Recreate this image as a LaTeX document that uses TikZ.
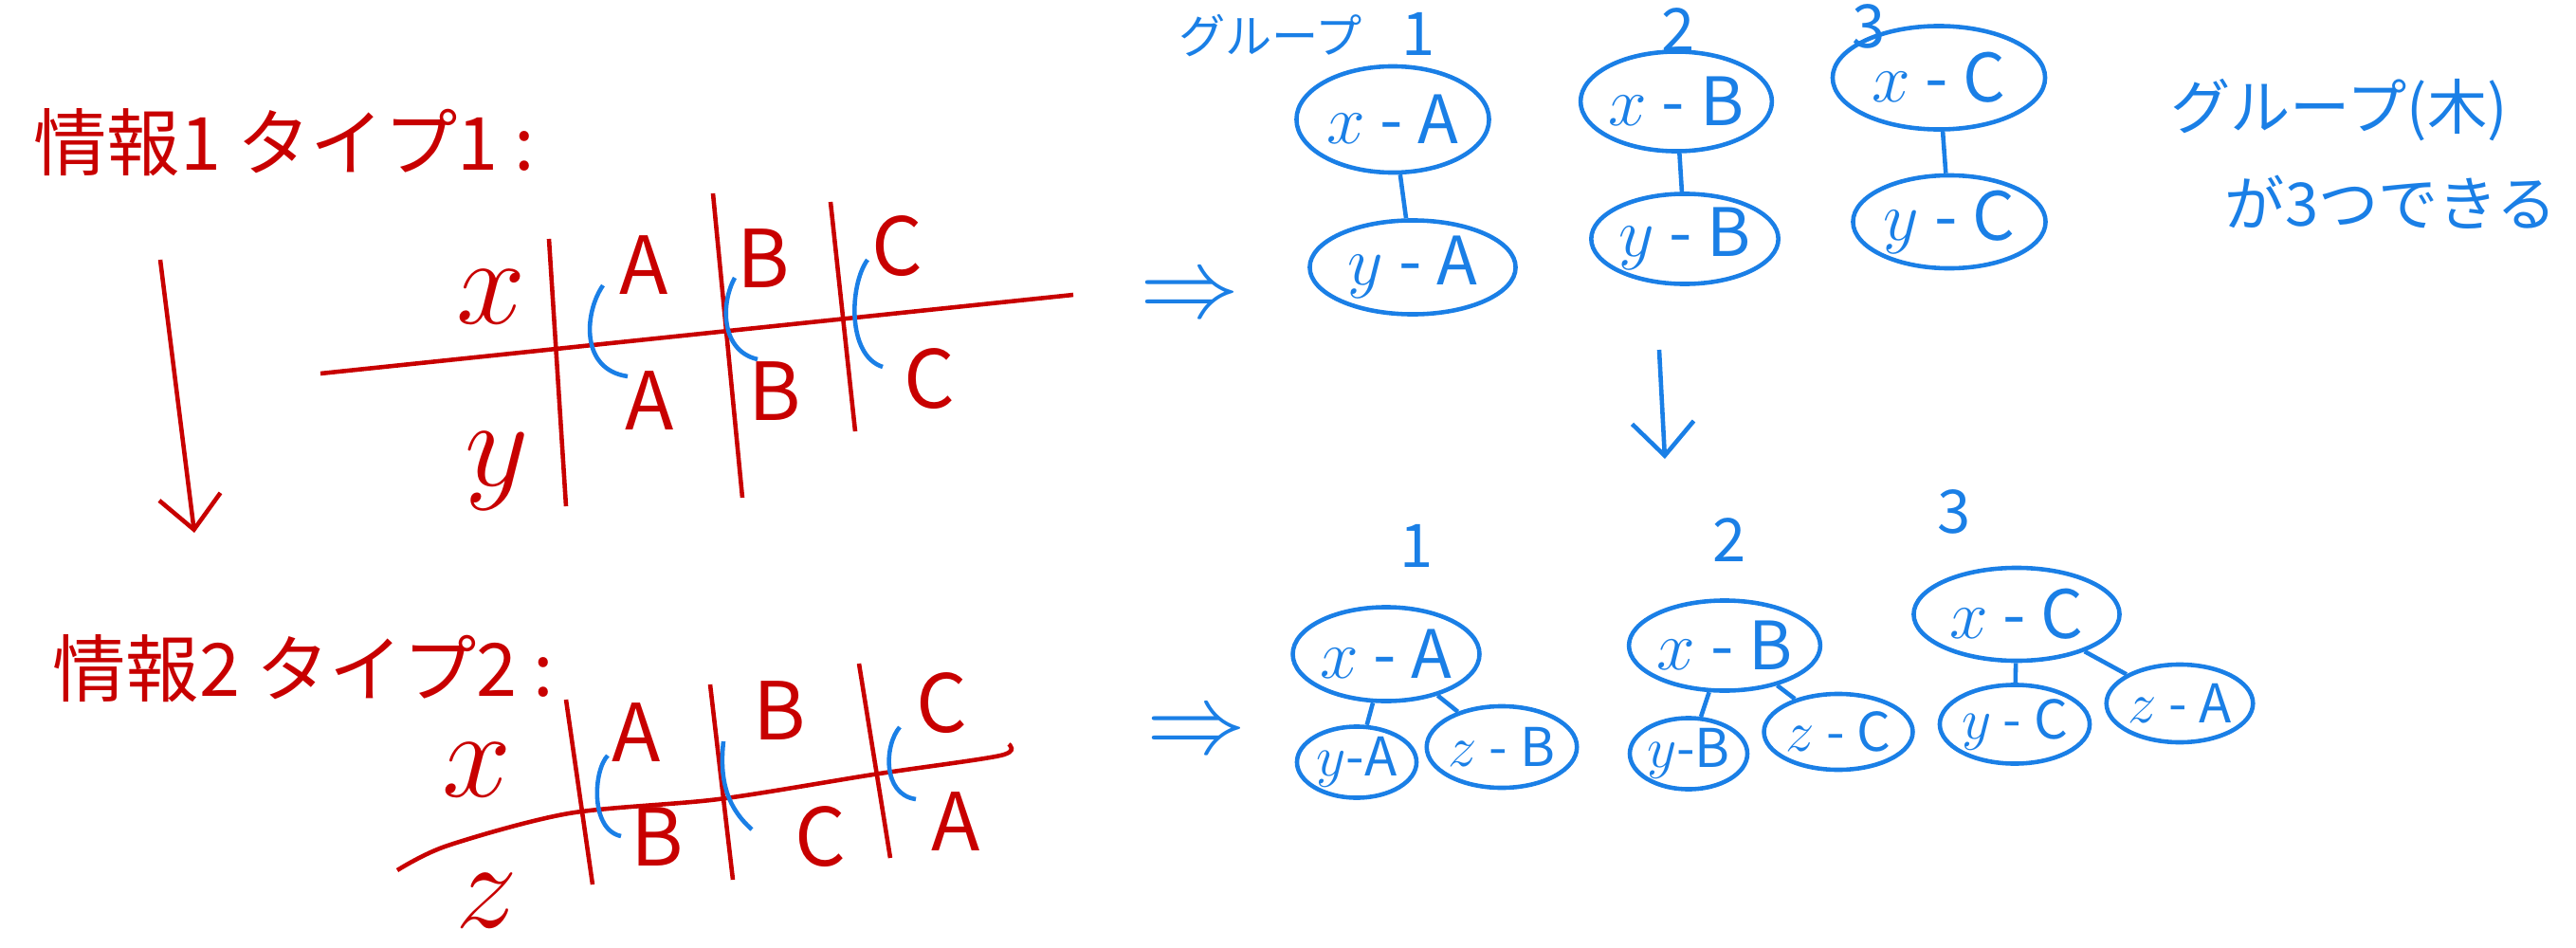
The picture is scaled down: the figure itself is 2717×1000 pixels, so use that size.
\documentclass[tikz,border=0pt]{standalone}
\usepackage{graphicx}
\usepackage{fontspec}
\setmainfont{Noto Sans CJK JP}
\usepackage{tikz}
\usetikzlibrary{arrows.meta,shapes.geometric}
\definecolor{penred}{HTML}{C80000}
\definecolor{penblue}{HTML}{1A7FE6}

\begin{document}
\begin{tikzpicture}[
  x=0.01cm, y=-0.01cm,
  line width=1.3pt,
  title/.style={text=penred, font=\fontsize{22}{24}\selectfont},
  letter/.style={text=penred, font=\fontsize{24}{24}\selectfont},
  var/.style={text=penred, inner sep=1pt, font=\fontsize{24}{24}\selectfont},
  note/.style={text=penblue, font=\fontsize{18}{20}\selectfont},
  num/.style={text=penblue, inner sep=1pt, font=\fontsize{18}{18}\selectfont},
  imp/.style={text=penblue, font=\fontsize{24}{24}\selectfont},
  blob/.style={ellipse, draw=penblue, text=penblue, inner sep=0pt,
               font=\fontsize{20}{20}\selectfont},
  leaf/.style={blob, font=\fontsize{16}{16}\selectfont},
  rule/.style={draw=penred},
  brk/.style={draw=penblue},
  link/.style={draw=penblue},
  arrow/.style={-{Straight Barb[length=3.5mm,width=6.5mm]}}
]
\useasboundingbox (0,0) rectangle (2717,1000);

% left side: the two kinds of data
\node[title] (t1) at (300,150) {情報1 タイプ1 :};
\node[title] (t2) at (320,705) {情報2 タイプ2 :};
\coordinate (d1) at (169,274);
\coordinate (d2) at (205,562);
\draw[penred, arrow] (d1) -- (d2);

% table 1
\draw[rule] (338,394) -- (1132,311);
\draw[rule] (579,252) -- (597,534);
\draw[rule] (752,204) -- (783,525);
\draw[rule] (876,213) -- (902,455);
\node[var] (x1) at (518,313) {\scalebox{1.5}{$x$}};
\node[var] (y1) at (524,497) {\scalebox{1.5}{$y$}};
\node[letter] (a1t) at (679,280) {A};
\node[letter] (a1b) at (685,423) {A};
\node[letter] (b1t) at (805,273) {B};
\node[letter] (b1b) at (817,413) {B};
\node[letter] (c1t) at (946,260) {C};
\node[letter] (c1b) at (980,400) {C};
\draw[brk] (636,301) .. controls (616,330) and (612,390) .. (662,397);
\draw[brk] (775,293) .. controls (760,320) and (760,370) .. (799,379);
\draw[brk] (915,274) .. controls (896,300) and (893,375) .. (931,387);

% table 2
\draw[rule] plot[smooth] coordinates {(419,918) (472,892) (600,858) (758,843) (921,817) (1055,797) (1064,785)};
\draw[rule] (597,738) -- (625,933);
\draw[rule] (749,722) -- (773,928);
\draw[rule] (906,700) -- (939,905);
\node[var] (x2) at (503,812) {\scalebox{1.5}{$x$}};
\node[var] (z2) at (513,950) {\scalebox{1.5}{$z$}};
\node[letter] (a2t) at (671,773) {A};
\node[letter] (b2b) at (693,883) {B};
\node[letter] (b2t) at (822,750) {B};
\node[letter] (c2b) at (865,883) {C};
\node[letter] (c2t) at (993,742) {C};
\node[letter] (a2b) at (1008,867) {A};
\draw[brk] (641,797) .. controls (626,812) and (622,875) .. (655,882);
\draw[brk] (763,782) .. controls (759,820) and (765,850) .. (793,875);
\draw[brk] (949,767) .. controls (933,785) and (930,838) .. (966,843);

\node[imp] (imp1) at (1255,315) {\scalebox{1.2}{$\Rightarrow$}};
\node[imp] (imp2) at (1262,775) {\scalebox{1.2}{$\Rightarrow$}};

% groups from type 1
\node[note, font=\fontsize{14}{14}\selectfont] (grp) at (1340,38) {グループ};
\node[num] (n1) at (1496,36) {1};
\node[num] (n2) at (1770,32) {2};
\node[num] (n3) at (1971,28) {3};
\node[blob, minimum width=2.03cm, minimum height=1.12cm] (xa1) at (1469,126) {$x$ - A};
\node[blob, minimum width=2.17cm, minimum height=0.99cm] (ya1) at (1490,282) {$y$ - A};
\node[blob, minimum width=1.58cm, minimum height=1.05cm] (xb1) at (1768,107) {$x$ - B};
\node[blob, minimum width=1.58cm, minimum height=0.95cm] (yb1) at (1777,252) {$y$ - B};
\node[blob, minimum width=2.24cm, minimum height=1.09cm] (xc1) at (2045,82) {$x$ - C};
\node[blob, minimum width=2.03cm, minimum height=0.98cm] (yc1) at (2056,234) {$y$ - C};
\draw[link] (xa1) -- (ya1);
\draw[link] (xb1) -- (yb1);
\draw[link] (xc1) -- (yc1);

\node[note] (tree) at (2467,116) {グループ(木)};
\node[note] (three) at (2522,213) {が3つできる};

\coordinate (m1) at (1750,369);
\coordinate (m2) at (1756,484);
\draw[penblue, arrow] (m1) -- (m2);

% groups after type 2
\node[num] (k1) at (1494,576) {1};
\node[num] (k2) at (1824,570) {2};
\node[num] (k3) at (2061,540) {3};
\node[blob, minimum width=1.71cm, minimum height=0.99cm] (xa2) at (1462,690) {$x$ - A};
\node[leaf, minimum width=1.26cm, minimum height=0.60cm] (ya2) at (1431,804) {$y$-A};
\node[leaf, minimum width=1.57cm, minimum height=0.86cm] (zb2) at (1584,788) {$z$ - B};
\node[blob, minimum width=1.70cm, minimum height=0.95cm] (xb2) at (1819,681) {$x$ - B};
\node[leaf, minimum width=1.21cm, minimum height=0.67cm] (yb2) at (1781,795) {$y$-B};
\node[leaf, minimum width=1.54cm, minimum height=0.80cm] (zc2) at (1939,772) {$z$ - C};
\node[blob, minimum width=2.17cm, minimum height=0.98cm] (xc2) at (2127,648) {$x$ - C};
\node[leaf, minimum width=1.49cm, minimum height=0.83cm] (yc2) at (2125,764) {$y$ - C};
\node[leaf, minimum width=1.39cm, minimum height=0.82cm] (za2) at (2299,742) {$z$ - A};
\draw[link] (xa2) -- (ya2);
\draw[link] (xa2) -- (zb2);
\draw[link] (xb2) -- (yb2);
\draw[link] (xb2) -- (zc2);
\draw[link] (xc2) -- (yc2);
\draw[link] (xc2) -- (za2);
\end{tikzpicture}
\end{document}
